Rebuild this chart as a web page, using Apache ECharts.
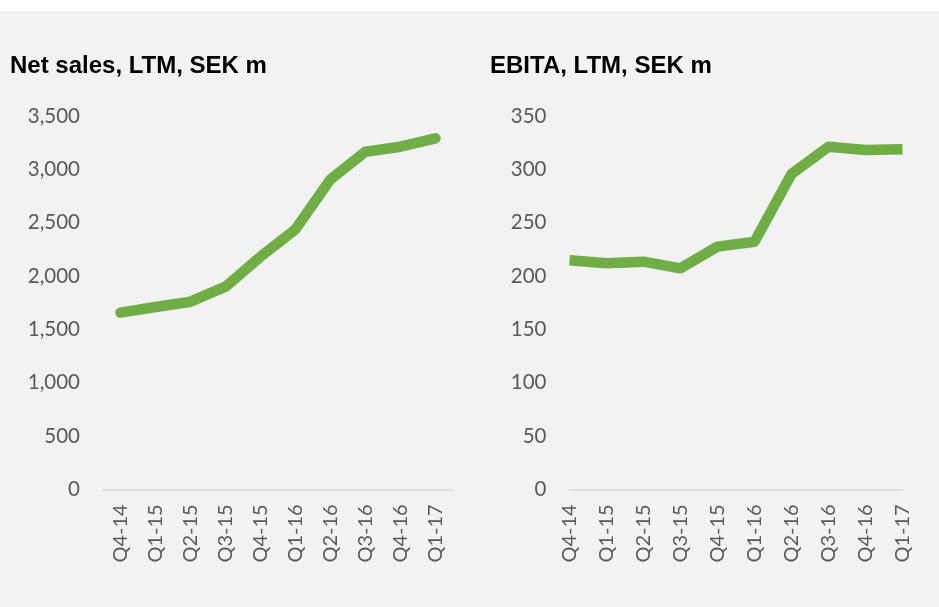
<!DOCTYPE html>
<html>
<head>
<meta charset="utf-8">
<script src="https://cdn.jsdelivr.net/npm/echarts@6/dist/echarts.min.js"></script>
<style>
html,body{margin:0;padding:0;background:#ffffff;}
#c{width:939px;height:607px;}
</style>
</head>
<body>
<div id="c"></div>
<script>
const categories = ['Q4-14','Q1-15','Q2-15','Q3-15','Q4-15','Q1-16','Q2-16','Q3-16','Q4-16','Q1-17'];
const netSales = [1656, 1709, 1759, 1900, 2181, 2438, 2906, 3165, 3212, 3291];
const ebita = [214.7, 211.9, 213.4, 207.2, 227.5, 232.1, 295.6, 321.2, 318.1, 318.9];
const titles = ['Net sales, LTM, SEK m', 'EBITA, LTM, SEK m'];
const salesTicks = {min: 0, max: 3500, interval: 500};
const ebitaTicks = {min: 0, max: 350, interval: 50};

const GREEN = '#70ad47';
const LABEL = '#595959';
const FONT = 'Lato';

function xAxis(gridIndex, boundaryGap) {
  return {
    type: 'category', gridIndex: gridIndex, data: categories, boundaryGap: boundaryGap,
    axisLine: {show: true, lineStyle: {color: '#d9d9d9', width: 1.5}},
    axisTick: {show: false},
    axisLabel: {rotate: 90, margin: 15, color: LABEL, fontFamily: FONT, fontSize: 20, interval: 0}
  };
}
function yAxis(gridIndex, t) {
  return {
    type: 'value', gridIndex: gridIndex, min: t.min, max: t.max, interval: t.interval,
    axisLine: {show: false}, axisTick: {show: false}, splitLine: {show: false},
    axisLabel: {margin: 23, color: LABEL, fontFamily: FONT, fontSize: 20.5,
      formatter: v => v.toLocaleString('en-US')}
  };
}

const chart = echarts.init(document.getElementById('c'), null, {renderer: 'canvas'});
chart.setOption({
  backgroundColor: '#ffffff',
  animation: false,
  graphic: [{type: 'rect', z: -10, silent: true, shape: {x: 0, y: 11, width: 939, height: 596}, style: {fill: '#f2f2f2'}}],
  title: [
    {text: titles[0], left: 10, top: 54, padding: 0, textStyle: {fontFamily: 'Liberation Sans, Arial', fontWeight: 'bold', fontSize: 24, color: '#000000'}},
    {text: titles[1], left: 490, top: 54, padding: 0, textStyle: {fontFamily: 'Liberation Sans, Arial', fontWeight: 'bold', fontSize: 24, color: '#000000'}}
  ],
  grid: [
    {left: 103, top: 116, width: 350, height: 373.3},
    {left: 569.5, top: 116, width: 333, height: 373.3}
  ],
  xAxis: [xAxis(0, true), xAxis(1, false)],
  yAxis: [yAxis(0, salesTicks), yAxis(1, ebitaTicks)],
  series: [
    {type: 'line', xAxisIndex: 0, yAxisIndex: 0, data: netSales, symbol: 'none',
      lineStyle: {color: GREEN, width: 10.5, cap: 'round', join: 'round'}},
    {type: 'line', xAxisIndex: 1, yAxisIndex: 1, data: ebita, symbol: 'none',
      lineStyle: {color: GREEN, width: 10.5, cap: 'butt', join: 'round'}}
  ]
});
</script>
</body>
</html>
